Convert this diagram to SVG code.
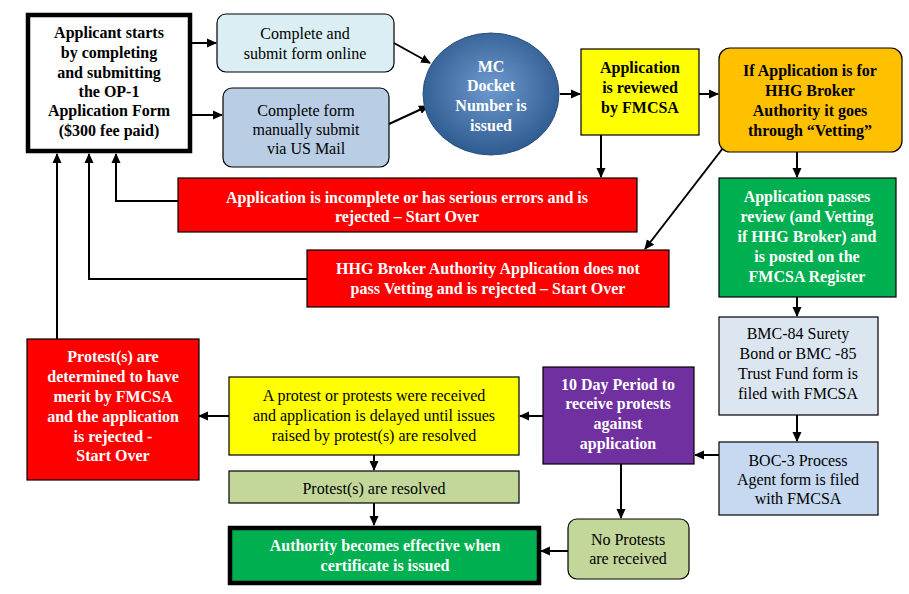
<svg xmlns="http://www.w3.org/2000/svg" width="909" height="594" viewBox="0 0 909 594">
<style>
.t{font-family:"Liberation Serif","Times New Roman",serif;font-size:16px;text-anchor:middle;dominant-baseline:central}
.b{font-weight:bold}
.w{fill:#fff}
.k{fill:#000}
.box{stroke:#000;stroke-width:1.2}
.ln{fill:none;stroke:#000;stroke-width:2}
</style>
<defs>
<marker id="ah" markerWidth="10" markerHeight="10" refX="9" refY="5" orient="auto" markerUnits="userSpaceOnUse">
<path d="M0,0.5 L10,5 L0,9.5 Z" fill="#000"/>
</marker>
<radialGradient id="cg" cx="0.5" cy="0.45" r="0.55">
<stop offset="0" stop-color="#6F9ACF"/>
<stop offset="1" stop-color="#2E5B90"/>
</radialGradient>
</defs>
<rect width="909" height="594" fill="#fff"/>

<g id="connectors">
<line class="ln" x1="192" y1="43" x2="216" y2="43" marker-end="url(#ah)"/>
<line class="ln" x1="192" y1="115" x2="222" y2="115" marker-end="url(#ah)"/>
<line class="ln" x1="394" y1="43" x2="430" y2="63" marker-end="url(#ah)"/>
<line class="ln" x1="389" y1="124" x2="428" y2="106" marker-end="url(#ah)"/>
<line class="ln" x1="560" y1="94" x2="580" y2="94" marker-end="url(#ah)"/>
<line class="ln" x1="699" y1="94" x2="718" y2="94" marker-end="url(#ah)"/>
<line class="ln" x1="601" y1="135" x2="601" y2="177" marker-end="url(#ah)"/>
<line class="ln" x1="797" y1="152" x2="797" y2="177" marker-end="url(#ah)"/>
<line class="ln" x1="723" y1="148" x2="645" y2="249" marker-end="url(#ah)"/>
<polyline class="ln" points="178,201 116,201 116,154" marker-end="url(#ah)"/>
<polyline class="ln" points="307,279 89,279 89,154" marker-end="url(#ah)"/>
<line class="ln" x1="57" y1="339" x2="57" y2="154" marker-end="url(#ah)"/>
<line class="ln" x1="797" y1="297" x2="797" y2="316" marker-end="url(#ah)"/>
<line class="ln" x1="797" y1="415" x2="797" y2="441" marker-end="url(#ah)"/>
<line class="ln" x1="719" y1="455" x2="695" y2="455" marker-end="url(#ah)"/>
<line class="ln" x1="543" y1="416" x2="520" y2="416" marker-end="url(#ah)"/>
<line class="ln" x1="621" y1="464" x2="621" y2="518" marker-end="url(#ah)"/>
<line class="ln" x1="568" y1="551" x2="541" y2="551" marker-end="url(#ah)"/>
<line class="ln" x1="229" y1="416" x2="199" y2="416" marker-end="url(#ah)"/>
<line class="ln" x1="374" y1="455" x2="374" y2="470" marker-end="url(#ah)"/>
<line class="ln" x1="374" y1="503" x2="374" y2="525" marker-end="url(#ah)"/>
</g>

<g id="applicant">
<rect x="28" y="15" width="162" height="136" fill="#fff" stroke="#000" stroke-width="4.5"/>
<text class="t b k" x="109" y="32">Applicant starts</text>
<text class="t b k" x="109" y="52">by completing</text>
<text class="t b k" x="109" y="72">and submitting</text>
<text class="t b k" x="109" y="91">the OP-1</text>
<text class="t b k" x="109" y="110">Application Form</text>
<text class="t b k" x="109" y="130">($300 fee paid)</text>
</g>

<g id="online">
<rect class="box" x="217" y="14" width="177" height="58" rx="9" fill="#DAEEF3"/>
<text class="t k" x="305" y="33">Complete and</text>
<text class="t k" x="305" y="53">submit form online</text>
</g>

<g id="mail">
<rect class="box" x="223" y="88" width="166" height="79" rx="9" fill="#B9CDE5"/>
<text class="t k" x="306" y="110">Complete form</text>
<text class="t k" x="306" y="129">manually submit</text>
<text class="t k" x="306" y="148">via US Mail</text>
</g>

<g id="docket">
<ellipse cx="491" cy="94" rx="68" ry="61" fill="url(#cg)" stroke="#2A4F7E" stroke-width="1"/>
<text class="t b w" x="491" y="66">MC</text>
<text class="t b w" x="491" y="85">Docket</text>
<text class="t b w" x="491" y="105">Number is</text>
<text class="t b w" x="491" y="125">issued</text>
</g>

<g id="reviewed">
<rect class="box" x="581" y="49" width="118" height="86" fill="#FFFF00"/>
<text class="t b k" x="640" y="67">Application</text>
<text class="t b k" x="640" y="87">is reviewed</text>
<text class="t b k" x="640" y="107">by FMCSA</text>
</g>

<g id="vetting">
<rect class="box" x="719" y="48" width="183" height="104" rx="11" fill="#FFC000"/>
<text class="t b k" x="810" y="70">If Application is for</text>
<text class="t b k" x="810" y="90">HHG Broker</text>
<text class="t b k" x="810" y="110">Authority it goes</text>
<text class="t b k" x="810" y="130">through “Vetting”</text>
</g>

<g id="incomplete">
<rect class="box" x="178" y="178" width="459" height="54" fill="#FF0000"/>
<text class="t b w" x="407" y="197">Application is incomplete or has serious errors and is</text>
<text class="t b w" x="407" y="216">rejected – Start Over</text>
</g>

<g id="vetfail">
<rect class="box" x="307" y="250" width="362" height="57" fill="#FF0000"/>
<text class="t b w" x="488" y="268">HHG Broker Authority Application does not</text>
<text class="t b w" x="488" y="288">pass Vetting and is rejected – Start Over</text>
</g>

<g id="passes">
<rect class="box" x="719" y="178" width="177" height="119" fill="#00B050"/>
<text class="t b w" x="807" y="196">Application passes</text>
<text class="t b w" x="807" y="216">review (and Vetting</text>
<text class="t b w" x="807" y="236">if HHG Broker) and</text>
<text class="t b w" x="807" y="256">is posted on the</text>
<text class="t b w" x="807" y="276">FMCSA Register</text>
</g>

<g id="bmc">
<rect class="box" x="719" y="317" width="159" height="98" fill="#DCE6F1"/>
<text class="t k" x="798" y="333">BMC-84 Surety</text>
<text class="t k" x="798" y="353">Bond or BMC -85</text>
<text class="t k" x="798" y="373">Trust Fund form is</text>
<text class="t k" x="798" y="393">filed with FMCSA</text>
</g>

<g id="boc">
<rect class="box" x="719" y="442" width="159" height="73" fill="#C6D9F1"/>
<text class="t k" x="798" y="460">BOC-3 Process</text>
<text class="t k" x="798" y="479">Agent form is filed</text>
<text class="t k" x="798" y="498">with FMCSA</text>
</g>

<g id="period">
<rect class="box" x="543" y="367" width="151" height="97" fill="#7030A0"/>
<text class="t b w" x="618" y="384">10 Day Period to</text>
<text class="t b w" x="618" y="403">receive protests</text>
<text class="t b w" x="618" y="423">against</text>
<text class="t b w" x="618" y="443">application</text>
</g>

<g id="noprotest">
<rect class="box" x="568" y="519" width="121" height="60" rx="9" fill="#C4D79B"/>
<text class="t k" x="628" y="539">No Protests</text>
<text class="t k" x="628" y="558">are received</text>
</g>

<g id="delayed">
<rect class="box" x="229" y="377" width="290" height="78" fill="#FFFF00"/>
<text class="t k" x="374" y="395">A protest or protests were received</text>
<text class="t k" x="374" y="415">and application is delayed until issues</text>
<text class="t k" x="374" y="435">raised by protest(s) are resolved</text>
</g>

<g id="resolved">
<rect class="box" x="229" y="471" width="290" height="32" fill="#C4D79B"/>
<text class="t k" x="374" y="488">Protest(s) are resolved</text>
</g>

<g id="effective">
<rect x="230" y="528" width="309" height="55" fill="#00B050" stroke="#000" stroke-width="4.5"/>
<text class="t b w" x="385" y="545">Authority becomes effective when</text>
<text class="t b w" x="385" y="565">certificate is issued</text>
</g>

<g id="merit">
<rect class="box" x="27" y="339" width="172" height="141" fill="#FF0000"/>
<text class="t b w" x="113" y="356">Protest(s) are</text>
<text class="t b w" x="113" y="376">determined to have</text>
<text class="t b w" x="113" y="396">merit by FMCSA</text>
<text class="t b w" x="113" y="416">and the application</text>
<text class="t b w" x="113" y="436">is rejected -</text>
<text class="t b w" x="113" y="455">Start Over</text>
</g>
</svg>
